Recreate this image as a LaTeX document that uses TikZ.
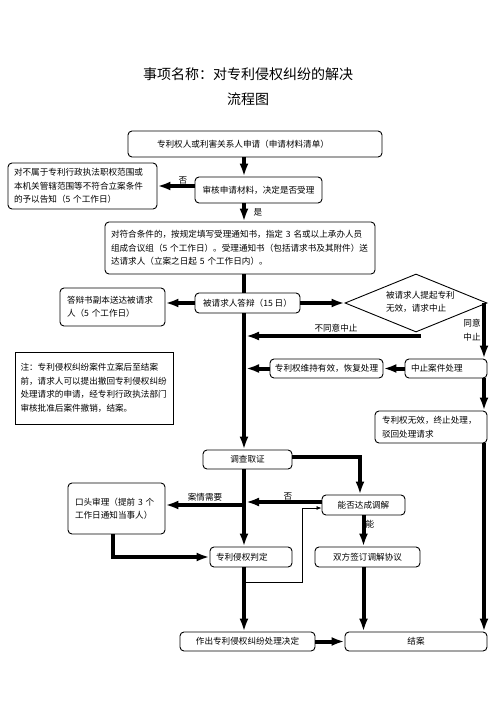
\documentclass[tikz,border=0pt]{standalone}
\usepackage{fontspec}
\setmainfont{Noto Sans CJK SC}
\usetikzlibrary{arrows.meta,shapes.geometric,calc}
\begin{document}
\begin{tikzpicture}[x=1pt,y=-1pt,
  every node/.style={font=\fontsize{8.6}{13.5}\selectfont, inner sep=0pt},
  box/.style={draw, line width=0.9pt, rounded corners=4pt},
  thk/.style={line width=4pt, line join=miter, -{Latex[length=13pt,width=9pt]}},
  thkl/.style={line width=4pt, line join=miter},
  thn/.style={line width=0.8pt, -{Latex[length=5pt,width=4pt]}}]
\useasboundingbox (0,0) rectangle (496,702);
\coordinate (spine) at (244,0);
\coordinate (rx) at (484,0);
\coordinate (mx) at (360,0);
\coordinate (kx) at (113,0);
\coordinate (tc) at (302,0);
% title
\node[font=\fontsize{14}{16}\selectfont] (t1) at (248,74) {事项名称：对专利侵权纠纷的解决};
\node[font=\fontsize{14}{16}\selectfont] (t2) at (248,99) {流程图};
% boxes
\node[box, minimum width=254pt, minimum height=26pt, text width=196pt, align=left] (b1) at (255,144) {专利权人或利害关系人申请（申请材料清单）};
\node[box, minimum width=127pt, minimum height=26pt] (b2) at (258.5,190) {审核申请材料，决定是否受理};
\node[box, minimum width=149pt, minimum height=46pt, text width=137pt, align=left] (bl) at (82.5,186) {对不属于专利行政执法职权范围或\\本机关管辖范围等不符合立案条件\\的予以告知（5 个工作日）};
\node[box, minimum width=270pt, minimum height=52pt, text width=258pt, align=left] (b3) at (240,248) {对符合条件的，按规定填写受理通知书，指定 3 名或以上承办人员\\组成合议组（5 个工作日）。受理通知书（包括请求书及其附件）送\\达请求人（立案之日起 5 个工作日内）。};
\node[box, minimum width=105pt, minimum height=20pt] (b4) at (247.5,303) {被请求人答辩（15 日）};
\node[box, minimum width=105pt, minimum height=38pt, text width=91pt, align=left] (bd) at (112.5,307) {答辩书副本送达被请求\\人（5 个工作日）};
\node[draw, diamond, line width=0.9pt, minimum width=142pt, minimum height=58pt] (dia) at (416,303) {};
\node[text width=72pt, align=left] (dt) at (422,302) {被请求人提起专利\\无效，请求中止};
\node[box, minimum width=82pt, minimum height=19pt, text width=70pt, align=left] (bzz) at (446,368.5) {中止案件处理};
\node[box, minimum width=113pt, minimum height=19pt] (bwc) at (326.5,368.5) {专利权维持有效，恢复处理};
\node[box, minimum width=112pt, minimum height=32pt, text width=98pt, align=left] (bwx) at (431,427) {专利权无效，终止处理，\\驳回处理请求};
\node[draw, line width=1pt, minimum width=158pt, minimum height=72pt, text width=147pt, align=left] (note) at (94,388) {注：专利侵权纠纷案件立案后至结案\\前，请求人可以提出撤回专利侵权纠纷\\处理请求的申请，经专利行政执法部门\\审核批准后案件撤销，结案。};
\node[box, minimum width=89pt, minimum height=19pt] (bdc) at (247.5,459.5) {调查取证};
\node[box, minimum width=83pt, minimum height=20pt] (bnf) at (363.5,505) {能否达成调解};
\node[box, minimum width=97pt, minimum height=51pt, text width=83pt, align=left] (bkt) at (116.5,508.5) {口头审理（提前 3 个\\工作日通知当事人）};
\node[box, minimum width=82pt, minimum height=20pt, text width=70pt, align=left] (bpd) at (251,557) {专利侵权判定};
\node[box, minimum width=105pt, minimum height=20pt] (bxy) at (367.5,557) {双方签订调解协议};
\node[box, minimum width=135pt, minimum height=19pt] (bzc) at (247.5,641.5) {作出专利侵权纠纷处理决定};
\node[box, minimum width=142pt, minimum height=19pt] (bja) at (416,641.5) {结案};
% connectors
\draw[thk] (b1.south -| spine) -- (b2.north -| spine);
\draw[thk] (b2.west |- bl.east) -- (bl.east);
\draw[thk] (b2.south -| spine) -- (b3.north -| spine);
\draw[thkl] (b3.south -| spine) -- (b4.north -| spine);
\draw[thk] (b4.west) -- (b4.west -| bd.east);
\draw[thk] (b4.east) -- (dia.west);
\draw[thk] (b4.south -| spine) -- (bdc.north -| spine);
\coordinate (nd) at (421,336);
\draw[thk, shorten >=2pt] (nd) -- (nd -| spine);
\draw[thk] (dia.east -| rx) -- (bzz.north -| rx);
\draw[thk] (bzz.west) -- (bwc.east);
\draw[thk, shorten >=2pt] (bwc.west) -- (bwc.west -| spine);
\draw[thk] (bzz.south -| rx) -- (bwx.north -| rx);
\draw[thk] (bwx.south -| rx) -- (bja.north -| rx);
\coordinate (de) at ([yshift=2.5pt]bdc.east);
\draw[thk] (de) -| (bnf.north -| mx);
\coordinate (nw) at ([yshift=3pt]bnf.west);
\draw[thk, shorten >=2pt] (nw) -- (nw -| spine);
\coordinate (ke) at ([yshift=3.5pt]bkt.east);
\draw[thk] (ke -| spine) -- (ke);
\coordinate (tl) at (244,582);
\coordinate (tw) at ([yshift=-3pt]bnf.west);
\draw[thn] (tl) -| (tw -| tc) -- (tw);
\draw[thk] (bkt.south -| kx) |- (bpd.west);
\draw[thk] (bdc.south -| spine) -- (bpd.north -| spine);
\draw[thk] (bpd.south -| spine) -- (bzc.north -| spine);
\draw[thk] (bnf.south) -- (bnf.south |- bxy.north);
\draw[thk] (bnf.south |- bxy.south) -- (bnf.south |- bja.north);
\draw[thk] (bzc.east) -- (bja.west);
% labels
\node (l1) at (183,180) {否};
\node (l2) at (258,212) {是};
\node (l3) at (336,328) {不同意中止};
\node[align=center] (l4) at (472,330) {同意\\中止};
\node (l5) at (205,497) {案情需要};
\node (l6) at (288,496) {否};
\node (l7) at (370,524) {能};
\end{tikzpicture}
\end{document}
